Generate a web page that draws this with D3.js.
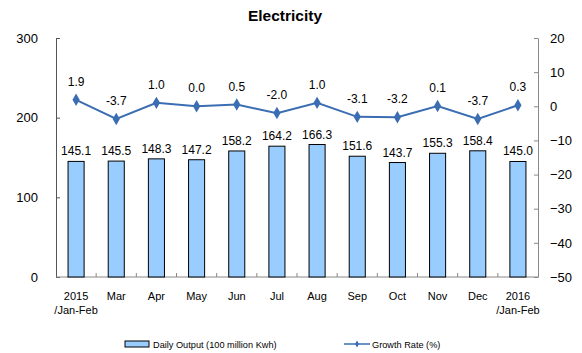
<!DOCTYPE html>
<html>
<head>
<meta charset="utf-8">
<script src="https://cdn.jsdelivr.net/npm/d3@7"></script>
<style>
  body { margin: 0; background: #fff; }
  text { font-family: Arial, "Liberation Sans", sans-serif; }
</style>
</head>
<body>
<script>
const svgWidth = 582;
const svgHeight = 353;

const months = ['2015\n/Jan-Feb', 'Mar', 'Apr', 'May', 'Jun', 'Jul', 'Aug', 'Sep', 'Oct', 'Nov', 'Dec', '2016\n/Jan-Feb'];
const output = [145.1, 145.5, 148.3, 147.2, 158.2, 164.2, 166.3, 151.6, 143.7, 155.3, 158.4, 145.0];
const growth = [1.9, -3.7, 1.0, 0.0, 0.5, -2.0, 1.0, -3.1, -3.2, 0.1, -3.7, 0.3];
const leftTicks = [0, 100, 200, 300];
const rightTicks = [-50, -40, -30, -20, -10, 0, 10, 20];

const lineColor = '#3b6db3';

const svg = d3.select('body')
              .append('svg')
              .attr('width', svgWidth)
              .attr('height', svgHeight);

const plotL = 56, plotR = 538, plotT = 38, plotB = 277;

const x = d3.scaleBand()
            .domain(months)
            .range([plotL, plotR])
            .paddingInner(0.6)
            .paddingOuter(0.3);

const yL = d3.scaleLinear().domain([0, 300]).range([plotB, plotT]);
const yR = d3.scaleLinear().domain([-50, 20]).range([plotB, plotT]);

// title
svg.append('text')
   .attr('x', 285).attr('y', 21)
   .attr('text-anchor', 'middle')
   .style('font-size', '15.5px').style('font-weight', 'bold')
   .text('Electricity');

// left axis
const axL = svg.append('g')
   .attr('transform', `translate(${plotL},0)`)
   .call(d3.axisLeft(yL).tickValues(leftTicks).tickSizeInner(-4).tickSizeOuter(0).tickPadding(18));
axL.select('.domain').attr('stroke', '#555');
axL.selectAll('.tick line').attr('stroke', '#555');
axL.selectAll('text').style('font-size', '13px').attr('fill', '#000');

// right axis
const axR = svg.append('g')
   .attr('transform', `translate(${plotR},0)`)
   .call(d3.axisRight(yR).tickValues(rightTicks).tickSizeInner(-4).tickSizeOuter(0).tickPadding(12));
axR.select('.domain').attr('stroke', '#888');
axR.selectAll('.tick line').attr('stroke', '#888');
axR.selectAll('text').style('font-size', '13px').attr('fill', '#000');

// x axis baseline and ticks between categories
const bounds = d3.range(months.length + 1).map(i => plotL + i * (plotR - plotL) / months.length);
svg.append('line')
   .attr('x1', plotL).attr('x2', plotR)
   .attr('y1', plotB).attr('y2', plotB)
   .attr('stroke', '#888');
svg.selectAll('.xtick')
   .data(bounds.slice(1, -1))
   .enter().append('line')
   .attr('x1', d => d).attr('x2', d => d)
   .attr('y1', plotB).attr('y2', plotB - 4)
   .attr('stroke', '#888');

// bars
svg.selectAll('.bar')
   .data(output)
   .enter().append('rect')
   .attr('x', (d, i) => x(months[i]))
   .attr('y', d => yL(d))
   .attr('width', x.bandwidth())
   .attr('height', d => plotB - yL(d))
   .attr('fill', '#99ccff')
   .attr('stroke', '#000')
   .attr('stroke-width', 1);

svg.selectAll('.barlabel')
   .data(output)
   .enter().append('text')
   .attr('x', (d, i) => x(months[i]) + x.bandwidth() / 2)
   .attr('y', d => yL(d) - 6)
   .attr('text-anchor', 'middle')
   .style('font-size', '12px')
   .text(d => d.toFixed(1));

// category labels
const xl = svg.selectAll('.xlabel')
   .data(months)
   .enter().append('text')
   .attr('x', d => x(d) + x.bandwidth() / 2)
   .attr('y', 300)
   .attr('text-anchor', 'middle')
   .style('font-size', '11px');
xl.each(function(d) {
  const parts = d.split('\n');
  parts.forEach((p, j) => {
    d3.select(this).append('tspan')
      .attr('x', x(d) + x.bandwidth() / 2)
      .attr('dy', j === 0 ? 0 : 14)
      .text(p);
  });
});

// growth line
const line = d3.line()
   .x((d, i) => x(months[i]) + x.bandwidth() / 2)
   .y(d => yR(d));

svg.append('path')
   .datum(growth)
   .attr('d', line)
   .attr('fill', 'none')
   .attr('stroke', lineColor)
   .attr('stroke-width', 2);

const diamond = d3.symbol().type(d3.symbolDiamond).size(45);
svg.selectAll('.pt')
   .data(growth)
   .enter().append('path')
   .attr('d', diamond)
   .attr('transform', (d, i) => `translate(${x(months[i]) + x.bandwidth() / 2},${yR(d)})`)
   .attr('fill', lineColor);

svg.selectAll('.ptlabel')
   .data(growth)
   .enter().append('text')
   .attr('x', (d, i) => x(months[i]) + x.bandwidth() / 2)
   .attr('y', d => yR(d) - 14)
   .attr('text-anchor', 'middle')
   .style('font-size', '12px')
   .text(d => d.toFixed(1));

// legend
svg.append('rect')
   .attr('x', 125).attr('y', 341)
   .attr('width', 24).attr('height', 6)
   .attr('fill', '#99ccff').attr('stroke', '#000');
svg.append('text')
   .attr('x', 153).attr('y', 347.5)
   .style('font-size', '9.2px')
   .text('Daily Output (100 million Kwh)');

svg.append('line')
   .attr('x1', 344).attr('x2', 370)
   .attr('y1', 344).attr('y2', 344)
   .attr('stroke', lineColor).attr('stroke-width', 1.5);
svg.append('path')
   .attr('d', d3.symbol().type(d3.symbolDiamond).size(14))
   .attr('transform', 'translate(357,344)')
   .attr('fill', lineColor);
svg.append('text')
   .attr('x', 372).attr('y', 347.5)
   .style('font-size', '9.2px')
   .text('Growth Rate (%)');
</script>
</body>
</html>
